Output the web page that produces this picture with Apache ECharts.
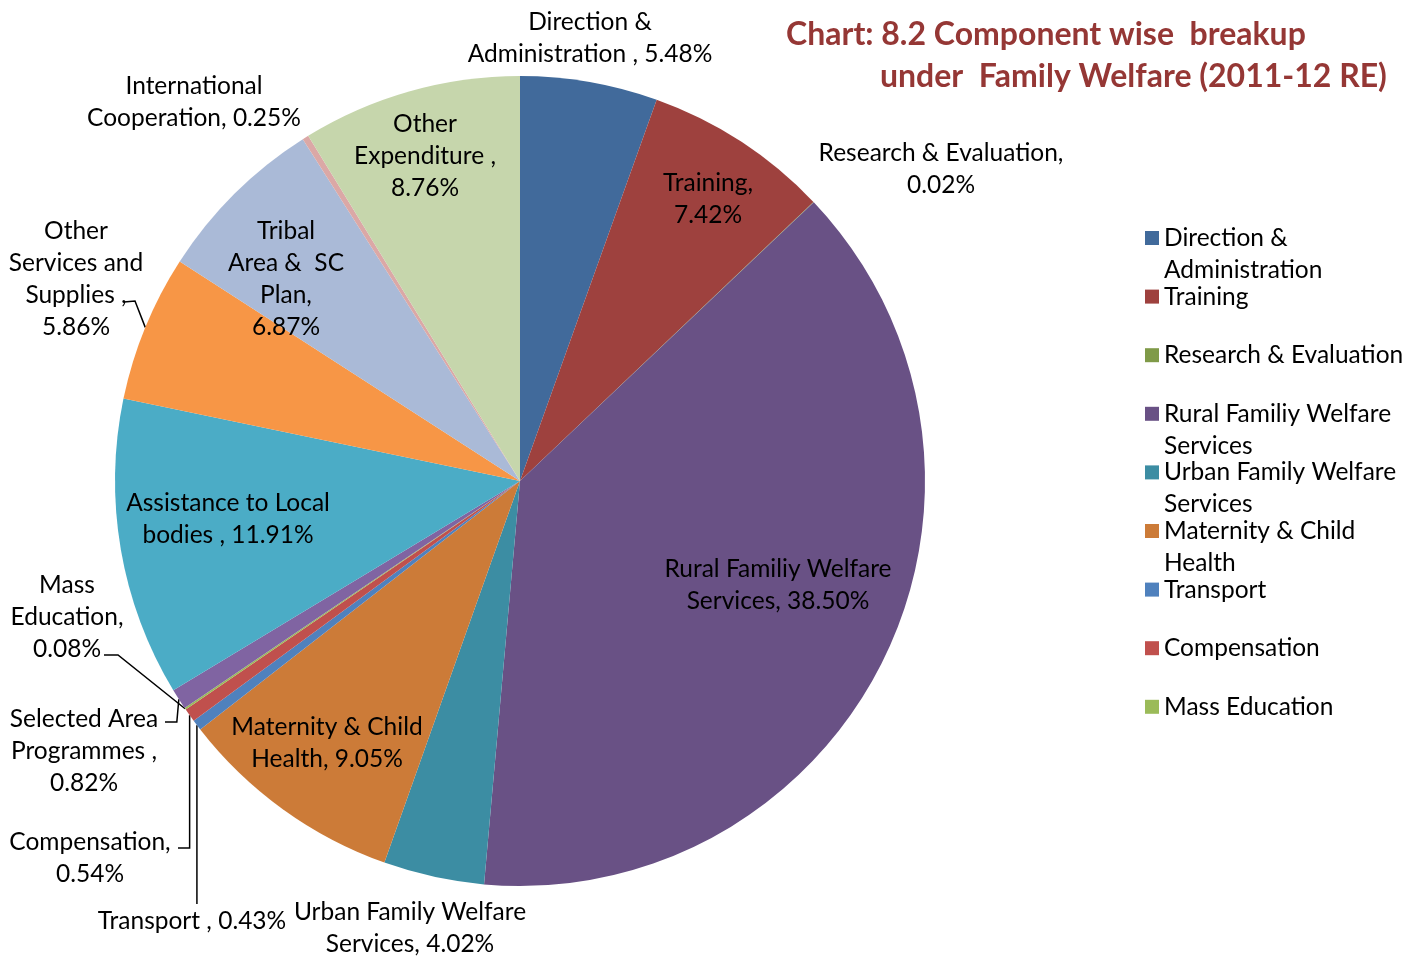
<!DOCTYPE html>
<html><head><meta charset="utf-8">
<script src="https://cdn.jsdelivr.net/npm/echarts@6/dist/echarts.min.js"></script>
<style>html,body{margin:0;padding:0;background:#fff}#chart{width:1424px;height:972px}</style>
</head><body><div id="chart"></div>
<script>
// ---- data ----
const categories = [
  'Direction & Administration ', 'Training', 'Research & Evaluation',
  'Rural Familiy Welfare Services', 'Urban Family Welfare Services',
  'Maternity & Child Health', 'Transport ', 'Compensation', 'Mass Education',
  'Selected Area Programmes ', 'Assistance to Local bodies ',
  'Other Services and Supplies ', 'Tribal Area &  SC Plan',
  'International Cooperation', 'Other Expenditure '
];
const shares = [5.48, 7.42, 0.02, 38.50, 4.02, 9.05, 0.43, 0.54, 0.08, 0.82, 11.91, 5.86, 6.87, 0.25, 8.76];
// label text (category text as wrapped in the picture), value appended from shares
const labelPrefixes = [
  'Direction &\nAdministration , ', 'Training,\n', 'Research & Evaluation,\n',
  'Rural Familiy Welfare\nServices, ', 'Urban Family Welfare\nServices, ',
  'Maternity & Child\nHealth, ', 'Transport , ', 'Compensation,\n',
  'Mass\nEducation,\n', 'Selected Area\nProgrammes ,\n', 'Assistance to Local\nbodies , ',
  'Other\nServices and\nSupplies ,\n', 'Tribal\nArea &  SC\nPlan,\n',
  'International\nCooperation, ', 'Other\nExpenditure ,\n'
];
const titleLines = ['Chart: 8.2 Component wise  breakup', 'under  Family Welfare (2011-12 RE)'];
const legendCount = 9;

// ---- style / layout ----
const colors = ['#416A9B', '#9E413E', '#7F9A48', '#695185', '#3C8DA3', '#CC7B38', '#4F81BD',
  '#C0504D', '#9BBB59', '#8064A2', '#4BACC6', '#F79646', '#AABAD7', '#DBA8A6', '#C6D6AC'];
const PIE_CENTER = [520, 481];
const PIE_RADIUS = 405;
const labelCenters = [
  [590, 38], [708, 199], [941, 169], [778, 585], [410, 928], [327, 743], [192, 921],
  [90, 858], [67, 617], [84, 751], [228, 519], [76, 279], [286, 279], [194, 102], [425, 156]
];
// leader-line bends (the slice end of each line comes from the pie layout)
const leaderBends = {
  6: (e) => [[e[0], 904]],
  7: (e) => [[e[0], 848], [178, 848]],
  8: () => [[118, 655], [104, 655]],
  9: (e) => [[e[0] - 2, 722], [165, 722]],
  11: () => [[135, 301], [124, 302]]
};
const wrappedLegend = [0, 3, 4, 5];
const FONT = 'Lato, Carlito, Calibri, sans-serif';
const FS = 24.5;
const LH = 32;
const BLANK = '\u00A0';

const total = shares.reduce((a, b) => a + b, 0);
function edgePoint(i) {
  let cum = 0;
  for (let k = 0; k < i; k++) cum += shares[k];
  const a = (cum + shares[i] / 2) / total * 2 * Math.PI;
  return [PIE_CENTER[0] + PIE_RADIUS * Math.sin(a), PIE_CENTER[1] - PIE_RADIUS * Math.cos(a)];
}

const pieData = categories.map((name, i) => ({
  name,
  value: shares[i],
  itemStyle: { color: colors[i] },
  labelLine: { show: leaderBends[i] !== undefined }
}));

const legendNames = categories.slice(0, legendCount);

const chart = echarts.init(document.getElementById('chart'), null, { renderer: 'canvas' });
chart.setOption({
  backgroundColor: '#ffffff',
  animation: false,
  title: [
    { text: titleLines[0], left: 786, top: 15, padding: 0,
      textStyle: { fontFamily: FONT, fontSize: 32, fontWeight: 'bold', color: '#953735', lineHeight: 40 } },
    { text: titleLines[1], left: 880, top: 57, padding: 0,
      textStyle: { fontFamily: FONT, fontSize: 32, fontWeight: 'bold', color: '#953735', lineHeight: 40 } }
  ],
  legend: {
    orient: 'vertical',
    left: 1145,
    top: 238 - 1.5 * LH,
    itemGap: 58.6 - 3 * LH,
    itemWidth: 14,
    itemHeight: 14,
    icon: 'rect',
    padding: 0,
    selectedMode: false,
    data: legendNames,
    formatter: (name) => {
      const i = legendNames.indexOf(name);
      return wrappedLegend.includes(i) ? BLANK + '\n' + name : BLANK + '\n' + name + '\n' + BLANK;
    },
    textStyle: { fontFamily: FONT, fontSize: FS, lineHeight: LH, color: '#000', width: 255, overflow: 'break' }
  },
  series: [{
    type: 'pie',
    center: PIE_CENTER,
    radius: PIE_RADIUS,
    startAngle: 90,
    clockwise: true,
    avoidLabelOverlap: false,
    silent: true,
    data: pieData,
    itemStyle: { borderWidth: 0 },
    label: {
      show: true,
      position: 'outside',
      fontFamily: FONT,
      fontSize: FS,
      lineHeight: LH,
      color: '#000',
      align: 'center',
      formatter: (p) => labelPrefixes[p.dataIndex] + shares[p.dataIndex].toFixed(2) + '%'
    },
    labelLine: { show: false, smooth: false, lineStyle: { color: '#000', width: 1.5 } },
    labelLayout: (params) => {
      const i = params.dataIndex;
      const c = labelCenters[i];
      const out = { x: c[0], y: c[1], align: 'center', verticalAlign: 'middle', hideOverlap: false };
      if (leaderBends[i]) {
        const e = (params.labelLinePoints && params.labelLinePoints[0]) || edgePoint(i);
        out.labelLinePoints = [e].concat(leaderBends[i](e));
      }
      return out;
    }
  }]
});
</script></body></html>
